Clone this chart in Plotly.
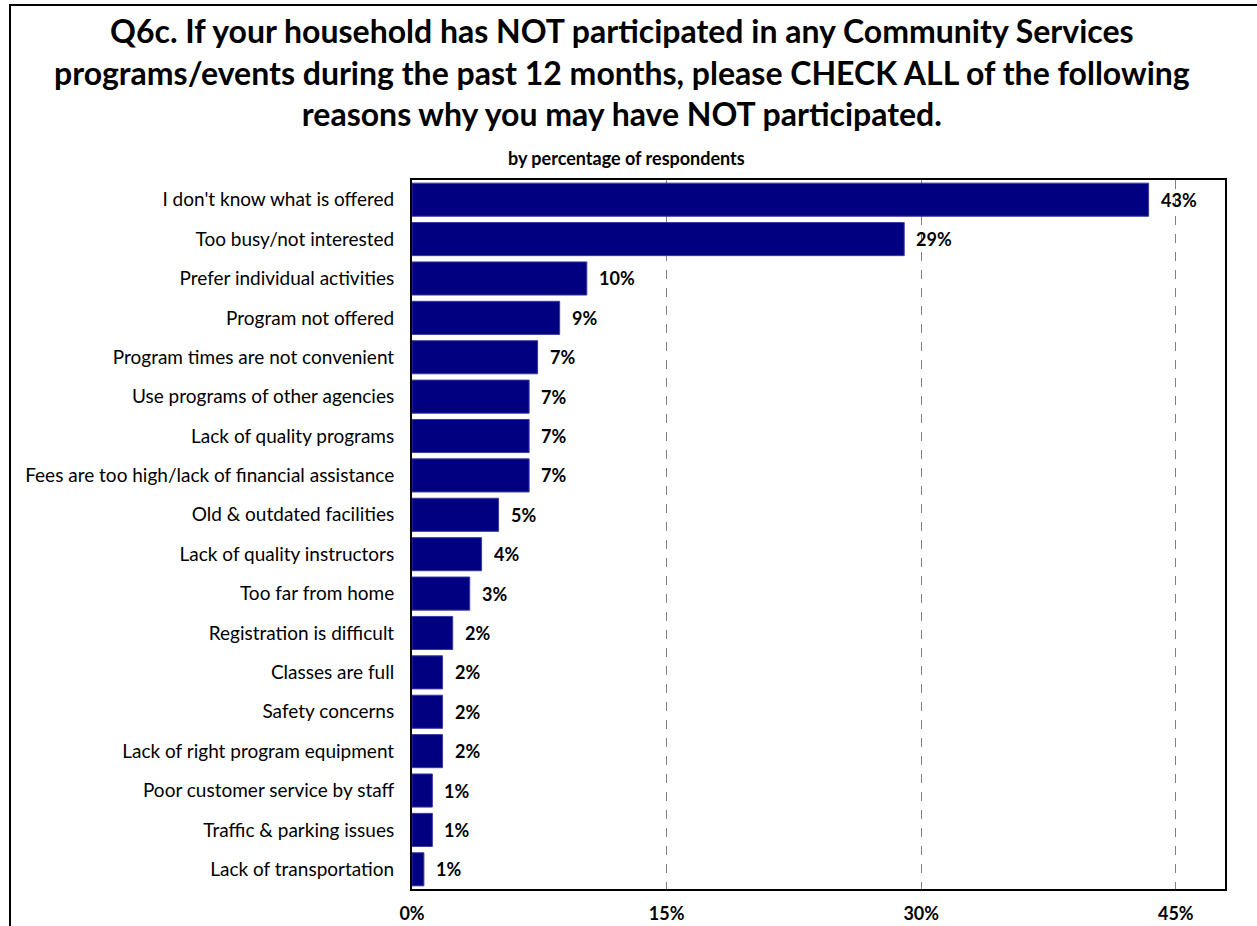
import plotly.graph_objects as go

# Survey responses, top to bottom
reasons = [
    "I don't know what is offered",
    "Too busy/not interested",
    "Prefer individual activities",
    "Program not offered",
    "Program times are not convenient",
    "Use programs of other agencies",
    "Lack of quality programs",
    "Fees are too high/lack of financial assistance",
    "Old & outdated facilities",
    "Lack of quality instructors",
    "Too far from home",
    "Registration is difficult",
    "Classes are full",
    "Safety concerns",
    "Lack of right program equipment",
    "Poor customer service by staff",
    "Traffic & parking issues",
    "Lack of transportation",
]
percent = [43.4, 29.0, 10.3, 8.7, 7.4, 6.9, 6.9, 6.9, 5.1, 4.1, 3.4, 2.4, 1.8, 1.8, 1.8, 1.2, 1.2, 0.7]
tick_values = [0, 15, 30, 45]

FONT = "Lato"
NAVY = "#000080"

W, H = 1257, 926
L, R, T, B = 412, 32, 180, 37
pw, ph = W - L - R, H - T - B


def px_to_paper_x(px):
    return (px - L) / pw


def px_to_paper_y(py):
    return (H - B - py) / ph


fig = go.Figure(
    go.Bar(
        x=percent,
        y=reasons,
        orientation="h",
        marker=dict(color=NAVY, line=dict(color="#3a3aa0", width=1)),
        hoverinfo="x+y",
    )
)

# value labels beside each bar
for r, v in zip(reasons, percent):
    fig.add_annotation(
        x=v, y=r, xref="x", yref="y",
        text=f"<b>{round(v):d}%</b>",
        showarrow=False, xanchor="left", xshift=10,
        font=dict(family=FONT, size=18, color="black"),
    )

# three-line heading
fig.add_annotation(
    x=px_to_paper_x(622), y=px_to_paper_y(9), xref="paper", yref="paper",
    xanchor="center", yanchor="top", showarrow=False,
    text="<b>Q6c. If your household has NOT participated in any Community Services<br>"
         "programs/events during the past 12 months, please CHECK ALL of the following<br>"
         "reasons why you may have NOT participated.</b>",
    font=dict(family=FONT, size=32, color="black"),
    align="center",
)
fig.add_annotation(
    x=px_to_paper_x(626), y=px_to_paper_y(158), xref="paper", yref="paper",
    xanchor="center", yanchor="middle", showarrow=False,
    text="<b>by percentage of respondents</b>",
    font=dict(family=FONT, size=18, color="black"),
)

# outer frame around the whole graphic
fig.add_shape(
    type="rect", xref="paper", yref="paper",
    x0=px_to_paper_x(10), x1=px_to_paper_x(1300),
    y0=px_to_paper_y(960), y1=px_to_paper_y(5),
    line=dict(color="black", width=2), fillcolor="rgba(0,0,0,0)", layer="above",
)

fig.update_layout(
    width=W, height=H,
    margin=dict(l=L, r=R, t=T, b=B),
    paper_bgcolor="white", plot_bgcolor="white",
    bargap=0.16,
    showlegend=False,
    font=dict(family=FONT, color="black"),
)
fig.update_xaxes(
    range=[0, 47.9],
    tickvals=tick_values,
    ticktext=[f"<b>{t}%</b>" for t in tick_values],
    tickfont=dict(family=FONT, size=18, color="black"),
    ticks="", ticklabelstandoff=7, automargin=False,
    showgrid=True, gridcolor="#808080", griddash="dash", gridwidth=1,
    showline=True, linecolor="black", linewidth=2, mirror=True,
    zeroline=False, fixedrange=True,
)
fig.update_yaxes(
    autorange="reversed",
    tickfont=dict(family=FONT, size=19, color="black"),
    ticks="", ticklabelstandoff=12, automargin=False,
    showline=True, linecolor="black", linewidth=2, mirror=True,
    showgrid=False, fixedrange=True,
)

fig.write_html("out.html")
